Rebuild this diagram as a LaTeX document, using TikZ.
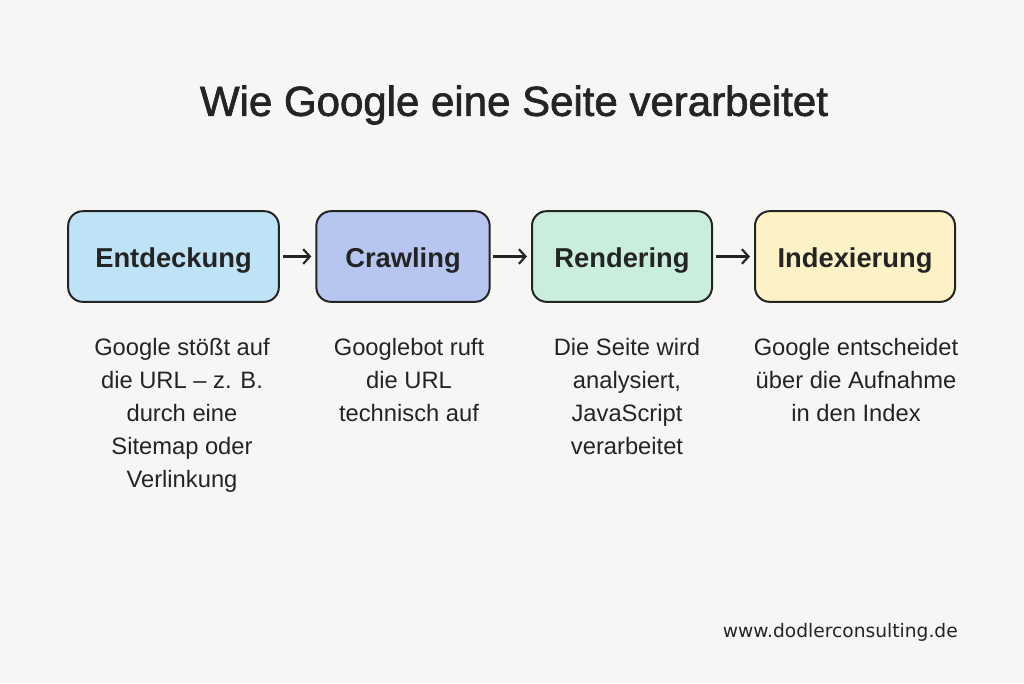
\documentclass[tikz,border=0pt]{standalone}
\usepackage{fontspec}
\setmainfont{Liberation Sans}
\newfontfamily\titlefont[FakeBold=1.6]{Liberation Sans}
\newfontfamily\urlfont{DejaVu Sans}
\usetikzlibrary{arrows.meta,positioning}

\definecolor{bgcol}{RGB}{246,246,245}
\definecolor{inkcol}{RGB}{36,36,36}
\definecolor{entcol}{RGB}{190,226,246}
\definecolor{crawlcol}{RGB}{182,198,240}
\definecolor{rendcol}{RGB}{202,238,222}
\definecolor{indexcol}{RGB}{253,241,198}

\tikzset{
  stage/.style={draw=inkcol, line width=1.5pt, rounded corners=11pt, minimum height=68pt,
    text=inkcol, font=\fontsize{20.5}{24}\selectfont\bfseries, inner sep=0pt,
    text height=16.5pt, text depth=0pt},
  desc/.style={text=inkcol, font=\fontsize{17.8}{24.75}\selectfont, align=center, anchor=north, inner sep=0pt},
  flow/.style={draw=inkcol, line width=1.6pt, -{Straight Barb[length=5pt,width=11pt,line width=1.6pt]}, shorten <=2pt, shorten >=3pt}
}

\begin{document}
\begin{tikzpicture}[x=0.75pt,y=0.75pt,yscale=-1,xscale=1]
  % background
  \fill[bgcol] (0,0) rectangle (1024,683);
  \useasboundingbox (0,0) rectangle (1024,683);

  % Title
  \node[text=inkcol, font=\fontsize{31.5}{36}\selectfont\titlefont] (title) at (514,105) {Wie Google eine Seite verarbeitet};

  % Stage boxes
  \node[stage, fill=entcol, minimum width=158pt] (ent) at (173.5,256.5) {Entdeckung};
  \node[stage, fill=crawlcol, minimum width=130pt] (crawl) at (403,256.5) {Crawling};
  \node[stage, fill=rendcol, minimum width=135pt] (rend) at (622,256.5) {Rendering};
  \node[stage, fill=indexcol, minimum width=150pt] (index) at (855,256.5) {Indexierung};

  % Arrows
  \draw[flow] (ent) -- (crawl);
  \draw[flow] (crawl) -- (rend);
  \draw[flow] (rend) -- (index);

  % Descriptions
  \node[desc] (entd) at (182,338) {Google stößt auf\\die URL – z. B.\\durch eine\\Sitemap oder\\Verlinkung};
  \node[desc] (crawld) at (409,338) {Googlebot ruft\\die URL\\technisch auf};
  \node[desc] (rendd) at (627,338) {Die Seite wird\\analysiert,\\JavaScript\\verarbeitet};
  \node[desc] (indexd) at (856,338) {Google entscheidet\\über die Aufnahme\\in den Index};

  % Footer
  \node[text=inkcol, font=\fontsize{14}{17}\selectfont\urlfont, anchor=east, inner sep=0pt] (url) at (958,632) {www.dodlerconsulting.de};
\end{tikzpicture}
\end{document}
